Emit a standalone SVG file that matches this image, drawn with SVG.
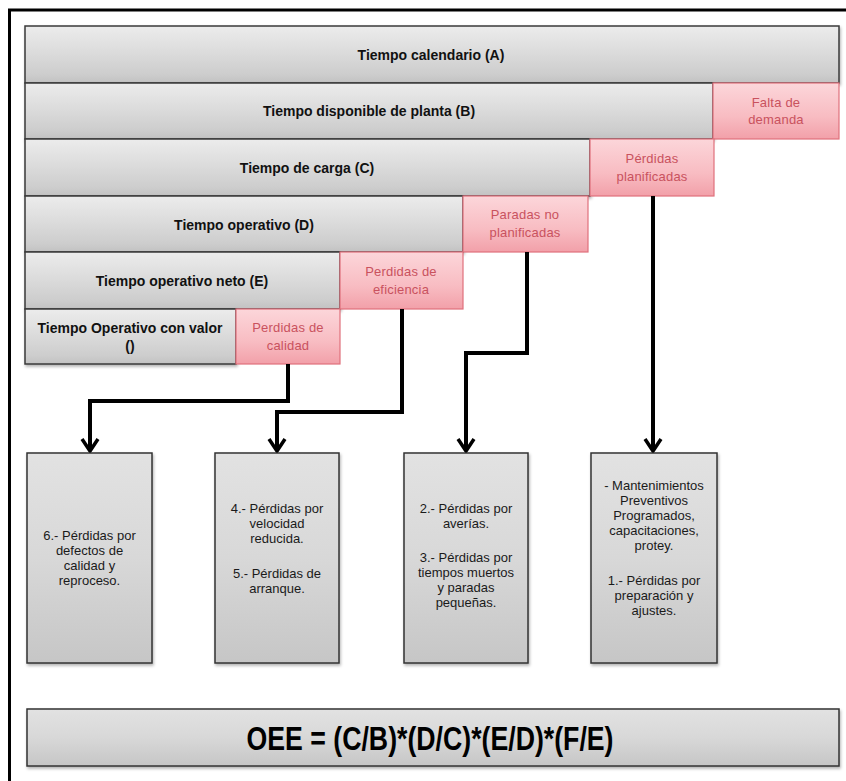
<svg xmlns="http://www.w3.org/2000/svg" width="846" height="781" viewBox="0 0 846 781">
<style>
.bar{fill:url(#gGray);stroke:#3a3a3a;stroke-width:1.5}
.pink{fill:url(#gPink);stroke:#e0707c;stroke-width:1.2}
.box{fill:url(#gBox);stroke:#333;stroke-width:1.5}
.bt{font-family:"Liberation Sans",Arial,sans-serif;font-weight:bold;font-size:14px;fill:#111;text-anchor:middle}
.pt{font-family:"Liberation Sans",Arial,sans-serif;font-size:13px;fill:#c9525e;text-anchor:middle;letter-spacing:0.2px}
.lt{font-family:"Liberation Sans",Arial,sans-serif;font-size:13px;fill:#1a1a1a;text-anchor:middle}
.conn{fill:none;stroke:#000;stroke-width:4;stroke-linejoin:miter}
</style>
<defs>
<linearGradient id="gGray" x1="0" y1="0" x2="0" y2="1">
<stop offset="0" stop-color="#ececec"/>
<stop offset="0.45" stop-color="#dcdcdc"/>
<stop offset="0.85" stop-color="#cdcdcd"/>
<stop offset="1" stop-color="#c2c2c2"/>
</linearGradient>
<linearGradient id="gPink" x1="0" y1="0" x2="0" y2="1">
<stop offset="0" stop-color="#fcd6da"/>
<stop offset="0.6" stop-color="#f8bcc2"/>
<stop offset="1" stop-color="#f2a0a9"/>
</linearGradient>
<linearGradient id="gBox" x1="0" y1="0" x2="0" y2="1">
<stop offset="0" stop-color="#e2e2e2"/>
<stop offset="0.5" stop-color="#d8d8d8"/>
<stop offset="1" stop-color="#c6c6c6"/>
</linearGradient>
<filter id="sh" x="-5%" y="-5%" width="110%" height="115%">
<feDropShadow dx="1" dy="2" stdDeviation="1.5" flood-color="#000" flood-opacity="0.3"/>
</filter>
<marker id="arr" markerUnits="userSpaceOnUse" markerWidth="20" markerHeight="20" viewBox="0 0 20 20" refX="15" refY="10" orient="auto">
<path d="M4,2 L16,10 L4,18" fill="none" stroke="#000" stroke-width="3.5"/>
</marker>
</defs>
<rect width="846" height="781" fill="#fff"/>
<path d="M9.5,781 V10 H846" fill="none" stroke="#000" stroke-width="3"/>

<g id="rowA"><rect class="bar" x="25" y="26" width="814" height="57" filter="url(#sh)"/><text class="bt" x="431" y="59.5">Tiempo calendario (A)</text></g>
<g id="rowB"><rect class="bar" x="25" y="83" width="688" height="56" filter="url(#sh)"/><text class="bt" x="369" y="116">Tiempo disponible de planta (B)</text></g>
<g id="faltaDemanda"><rect class="pink" x="713" y="83" width="126" height="56"/><text class="pt" x="776" y="107">Falta de</text><text class="pt" x="776" y="124">demanda</text></g>
<g id="rowC"><rect class="bar" x="25" y="139" width="565" height="57" filter="url(#sh)"/><text class="bt" x="307" y="172.5">Tiempo de carga (C)</text></g>
<g id="perdidasPlanificadas"><rect class="pink" x="590" y="139" width="124" height="57"/><text class="pt" x="652" y="163">Pérdidas</text><text class="pt" x="652" y="181">planificadas</text></g>
<g id="rowD"><rect class="bar" x="25" y="196" width="438" height="56" filter="url(#sh)"/><text class="bt" x="244" y="229.5">Tiempo operativo (D)</text></g>
<g id="paradasNoPlanificadas"><rect class="pink" x="463" y="196" width="125" height="56"/><text class="pt" x="525" y="219">Paradas no</text><text class="pt" x="525" y="237">planificadas</text></g>
<g id="rowE"><rect class="bar" x="25" y="252" width="315" height="57" filter="url(#sh)"/><text class="bt" x="182" y="286">Tiempo operativo neto (E)</text></g>
<g id="perdidasEficiencia"><rect class="pink" x="340" y="252" width="123" height="57"/><text class="pt" x="401" y="276">Perdidas de</text><text class="pt" x="401" y="294">eficiencia</text></g>
<g id="rowF"><rect class="bar" x="25" y="309" width="211" height="55" filter="url(#sh)"/><text class="bt" x="130" y="332.5">Tiempo Operativo con valor</text><text class="bt" x="130" y="350.5">()</text></g>
<g id="perdidasCalidad"><rect class="pink" x="236" y="309" width="104" height="55"/><text class="pt" x="288" y="332">Perdidas de</text><text class="pt" x="288" y="350">calidad</text></g>

<g id="connectors">
<path class="conn" d="M288,364 V401 H90 V450" marker-end="url(#arr)"/>
<path class="conn" d="M402,309 V412 H277 V450" marker-end="url(#arr)"/>
<path class="conn" d="M527,252 V353 H466 V450" marker-end="url(#arr)"/>
<path class="conn" d="M653,196 V450" marker-end="url(#arr)"/>
</g>

<g id="box1"><rect class="box" x="27" y="453" width="125" height="210" filter="url(#sh)"/>
<text class="lt" x="89.5" y="540">6.- Pérdidas por</text><text class="lt" x="89.5" y="555">defectos de</text><text class="lt" x="89.5" y="570">calidad y</text><text class="lt" x="89.5" y="585">reproceso.</text></g>
<g id="box2"><rect class="box" x="215" y="453" width="124" height="210" filter="url(#sh)"/>
<text class="lt" x="277" y="512.5">4.- Pérdidas por</text><text class="lt" x="277" y="527.5">velocidad</text><text class="lt" x="277" y="542.5">reducida.</text><text class="lt" x="277" y="577.5">5.- Pérdidas de</text><text class="lt" x="277" y="592.5">arranque.</text></g>
<g id="box3"><rect class="box" x="404" y="453" width="124" height="210" filter="url(#sh)"/>
<text class="lt" x="466" y="512.5">2.- Pérdidas por</text><text class="lt" x="466" y="527.5">averías.</text><text class="lt" x="466" y="561.5">3.- Pérdidas por</text><text class="lt" x="466" y="576.5">tiempos muertos</text><text class="lt" x="466" y="591.5">y paradas</text><text class="lt" x="466" y="606.5">pequeñas.</text></g>
<g id="box4"><rect class="box" x="591" y="453" width="126" height="210" filter="url(#sh)"/>
<text class="lt" x="654" y="489.5">- Mantenimientos</text><text class="lt" x="654" y="504.5">Preventivos</text><text class="lt" x="654" y="519.5">Programados,</text><text class="lt" x="654" y="534.5">capacitaciones,</text><text class="lt" x="654" y="549.5">protey.</text><text class="lt" x="654" y="584.5">1.- Pérdidas por</text><text class="lt" x="654" y="599.5">preparación y</text><text class="lt" x="654" y="614.5">ajustes.</text></g>

<g id="formula"><rect class="box" x="27" y="709" width="812" height="57" filter="url(#sh)"/>
<text x="430" y="750" font-family="'Liberation Sans',Arial,sans-serif" font-weight="bold" font-size="33" fill="#000" text-anchor="middle" textLength="367" lengthAdjust="spacingAndGlyphs">OEE = (C/B)*(D/C)*(E/D)*(F/E)</text></g>
</svg>
